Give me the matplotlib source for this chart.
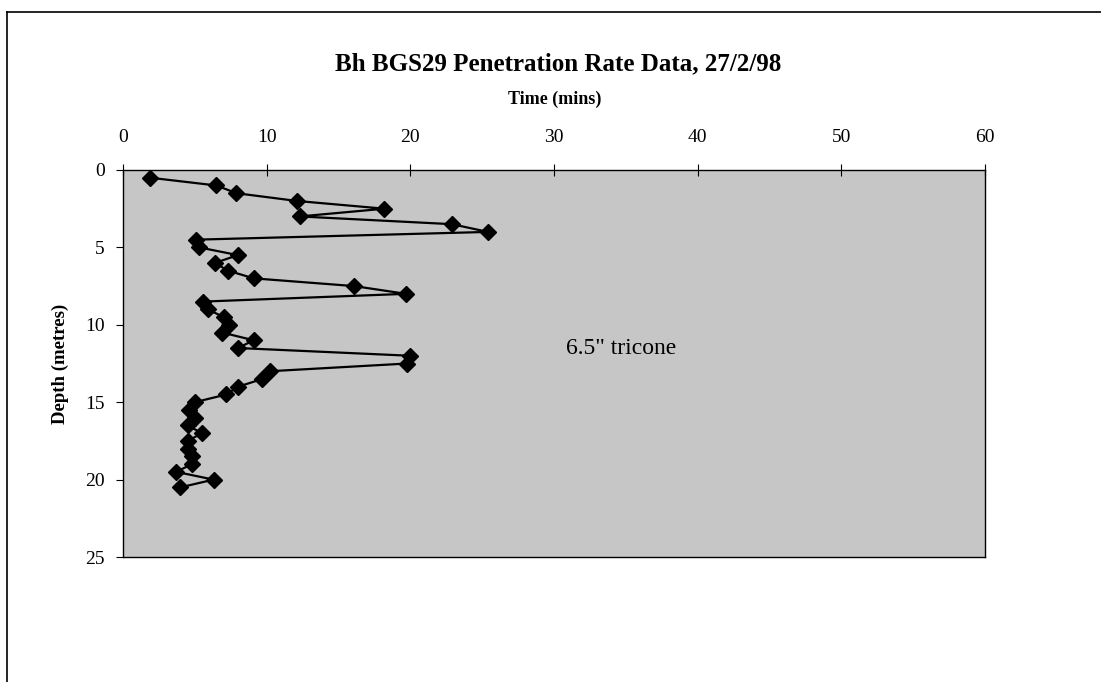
"""
Penetration rate log for borehole BGS29 (depth vs drilling time)
"""
import matplotlib
matplotlib.use('Agg')
import matplotlib.pyplot as plt
from matplotlib.lines import Line2D

# depth (m) and time taken (mins) for each half-metre run
depth = [0.5, 1.0, 1.5, 2.0, 2.5, 3.0, 3.5, 4.0, 4.5, 5.0,
         5.5, 6.0, 6.5, 7.0, 7.5, 8.0, 8.5, 9.0, 9.5, 10.0,
         10.5, 11.0, 11.5, 12.0, 12.5, 13.0, 13.5, 14.0, 14.5, 15.0,
         15.5, 16.0, 16.5, 17.0, 17.5, 18.0, 18.5, 19.0, 19.5, 20.0, 20.5]
time_mins = [1.9, 6.5, 7.9, 12.1, 18.2, 12.3, 22.9, 25.4, 5.1, 5.3,
             8.0, 6.4, 7.3, 9.1, 16.1, 19.7, 5.6, 5.9, 7.0, 7.4,
             6.9, 9.1, 8.0, 20.0, 19.8, 10.2, 9.7, 8.0, 7.2, 5.0,
             4.6, 5.0, 4.5, 5.5, 4.5, 4.5, 4.8, 4.8, 3.7, 6.3, 4.0]

x_ticks = [0, 10, 20, 30, 40, 50, 60]
y_ticks = [0, 5, 10, 15, 20, 25]

title = 'Bh BGS29 Penetration Rate Data, 27/2/98'
x_label = 'Time (mins)'
y_label = 'Depth (metres)'
note = '6.5" tricone'

plt.rcParams['font.family'] = ['Liberation Serif', 'DejaVu Serif']

W, H = 1101, 682
fig = plt.figure(figsize=(W / 100, H / 100), dpi=100)
fig.patch.set_facecolor('white')

# outer frame (left and top edges of the scanned page)
fig.add_artist(Line2D([7 / W, 7 / W], [0, 1 - 12 / H], color='black', lw=1.2))
fig.add_artist(Line2D([7 / W, 1], [1 - 12 / H, 1 - 12 / H], color='black', lw=1.2))

ax = fig.add_axes([123 / W, 1 - 557 / H, 862 / W, 387 / H])
ax.set_facecolor('#c6c6c6')

ax.plot(time_mins, depth, color='black', lw=1.6, marker='D',
        markersize=8, markerfacecolor='black', markeredgecolor='black')

ax.set_xlim(0, 60)
ax.set_ylim(25, 0)
ax.set_xticks(x_ticks)
ax.set_yticks(y_ticks)
ax.xaxis.tick_top()
ax.tick_params(axis='x', direction='inout', length=8, width=0.8, labelsize=14, pad=13)
ax.tick_params(axis='y', direction='out', length=5, width=0.8, labelsize=14, pad=8)
for s in ax.spines.values():
    s.set_linewidth(1.0)

ax.set_ylabel(y_label, fontsize=13.5, fontweight='bold', labelpad=12)

ax.text(34.7, 11.5, note, fontsize=17, ha='center', va='center')

fig.text(558 / W, 1 - 64 / H, title, fontsize=18, fontweight='bold',
         ha='center', va='center')
fig.text(555 / W, 1 - 99 / H, x_label, fontsize=13, fontweight='bold',
         ha='center', va='center')

fig.savefig('out.png', dpi=100)
